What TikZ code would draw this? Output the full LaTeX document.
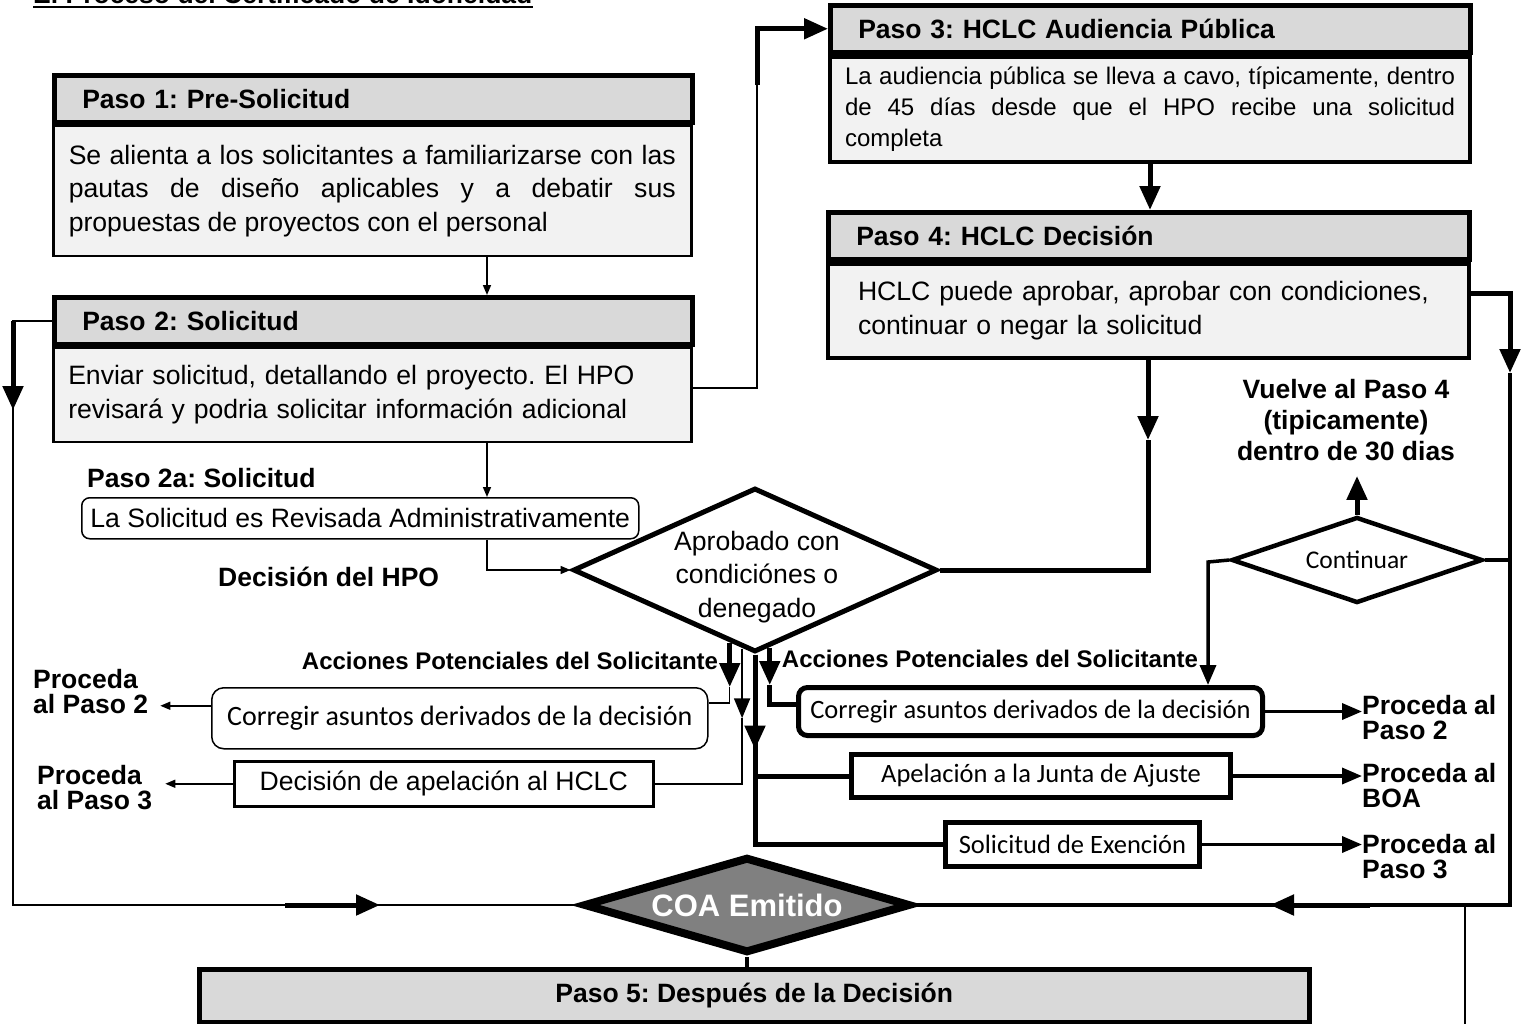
\documentclass[tikz,border=0pt]{standalone}
\usepackage{fontspec}
\setmainfont{Liberation Sans}
\newfontfamily\calfont{Carlito}
\usepackage{tikz}
\usetikzlibrary{shapes.geometric}
\usetikzlibrary{arrows.meta,positioning,calc}
\definecolor{hdrgray}{HTML}{D9D9D9}
\definecolor{bodygray}{HTML}{F2F2F2}
\definecolor{coagray}{HTML}{808080}
\newcommand{\bodysize}{\fontsize{26.6pt}{33.5pt}\selectfont}
\newcommand{\labsize}{\fontsize{26.5pt}{25pt}\selectfont\bfseries}
\newcommand{\calsize}{\calfont\fontsize{26.5pt}{26.5pt}\selectfont}
\hyphenpenalty=10000
\frenchspacing
\tikzstyle{hdr}=[draw, fill=hdrgray, line width=4.5pt, anchor=north west, inner xsep=28pt, inner ysep=0pt, minimum height=47pt, align=left, font=\labsize]
\tikzstyle{bdy}=[draw, fill=bodygray, line width=2.5pt, anchor=north west, font=\bodysize]
\tikzstyle{lab}=[inner sep=0pt, align=left, font=\labsize]
\tikzstyle{act}=[draw, line width=5pt, anchor=north west, font=\calsize]
\tikzstyle{dia}=[diamond, draw, fill=white, line width=5pt, inner sep=0pt]
\tikzstyle{thn}=[line width=1.5pt]
\tikzstyle{tarr}=[line width=1.5pt, -{Triangle[length=10pt, width=8pt]}]
\tikzstyle{kthk}=[line width=5pt]
\tikzstyle{karr}=[line width=5pt, -{Triangle[length=24pt, width=20pt]}]
\tikzstyle{marr}=[line width=3.5pt, -{Triangle[length=20pt, width=16pt]}]

\begin{document}
\begin{tikzpicture}[x=1pt, y=-1pt]
\useasboundingbox (0,0) rectangle (1525,1023);
%
  \node[lab, anchor=base west] (ttl) at (33,3) {El Proceso del Certificado de Idoneidad};
  \draw[line width=2.7pt] ([yshift=-3.5pt]ttl.south west) -- ([yshift=-3.5pt]ttl.south east);
% steps
  \node[hdr, text width=582pt] (p1h) at (52,73) {Paso 1: Pre-Solicitud};
  \node[bdy, minimum width=638pt, minimum height=130pt, text width=607pt, align=justify] (p1b) at (p1h.south west) {Se alienta a los solicitantes a familiarizarse con las\linebreak pautas de diseño aplicables y a debatir sus\linebreak propuestas de proyectos con el personal};
  \node[hdr, text width=582pt] (p2h) at (52,295) {Paso 2: Solicitud};
  \node[bdy, minimum width=638pt, minimum height=94pt, text width=608pt, align=left] (p2b) at (p2h.south west) {Enviar solicitud, detallando el proyecto. El HPO\\revisará y podria solicitar información adicional};
  \node[hdr, text width=584pt] (p3h) at (828,3) {Paso 3: HCLC Audiencia Pública};
  \node[bdy, line width=4pt, minimum width=640pt, minimum height=105pt, text width=610pt, align=justify, font=\fontsize{24pt}{31pt}\selectfont] (p3b) at (p3h.south west) {La audiencia pública se lleva a cavo, típicamente, dentro\linebreak de 45 días desde que el HPO recibe una solicitud\linebreak completa};
  \node[hdr, text width=585pt] (p4h) at (826,210) {Paso 4: HCLC Decisión};
  \node[bdy, line width=4pt, minimum width=641pt, minimum height=94pt, text width=581pt, align=left] (p4b) at (p4h.south west) {HCLC puede aprobar, aprobar con condiciones,\\continuar o negar la solicitud};
  \node[lab, anchor=west] (p2al) at (87,478) {Paso 2a: Solicitud};
  \node[draw, rounded corners=8pt, line width=1.5pt, anchor=north west, minimum width=557pt, minimum height=41pt, font=\bodysize] (p2a) at (81,497) {La Solicitud es Revisada Administrativamente};
  \node[lab, anchor=west] (hpo) at (218,577) {Decisión del HPO};
% decisions
  \node[dia, minimum width=364pt, minimum height=164pt] (dec) at (755,570) {};
  \node[align=center, font=\bodysize, inner sep=0pt] (dect) at (757,577) {Aprobado con\\condiciónes o\\denegado};
  \node[dia, line width=4.5pt, minimum width=251pt, minimum height=86pt, shape aspect=2.9, font=\calfont\fontsize{25.5pt}{25.5pt}\selectfont] (cont) at (1357,560) {Continuar};
  \node[dia, fill=coagray, line width=8pt, minimum width=327pt, minimum height=96pt, shape aspect=3.4, text=white, font=\fontsize{31pt}{31pt}\selectfont\bfseries] (coa) at (747,905) {COA Emitido};
  \node[draw, fill=hdrgray, line width=4.5pt, anchor=north west, minimum width=1110pt, minimum height=53pt, font=\labsize] (p5) at (197,967) {Paso 5: Después de la Decisión};
  \node[lab, align=center, font=\fontsize{26.5pt}{31pt}\selectfont\bfseries] (vuelve) at (1346,420) {Vuelve al Paso 4\\(tipicamente)\\dentro de 30 dias};
% applicant actions
  \node[lab, font=\fontsize{24pt}{24pt}\selectfont\bfseries] (accL) at (510,661) {Acciones Potenciales del Solicitante};
  \node[lab, font=\fontsize{24pt}{24pt}\selectfont\bfseries] (accR) at (990,659) {Acciones Potenciales del Solicitante};
  \node[draw, rounded corners=12pt, line width=1.5pt, anchor=north west, minimum width=496pt, minimum height=61pt, font=\calfont\fontsize{28pt}{28pt}\selectfont] (corL) at (211,687) {Corregir asuntos derivados de la decisión};
  \node[draw, line width=2.5pt, anchor=north west, minimum width=419pt, minimum height=45pt, font=\bodysize] (decL) at (233,760) {Decisión de apelación al HCLC};
  \node[lab, anchor=west] (pr2L) at (33,692) {Proceda\\al Paso 2};
  \node[lab, anchor=west] (pr3L) at (37,788) {Proceda\\al Paso 3};
  \node[act, rounded corners=9pt, minimum width=464pt, minimum height=48pt] (corR) at (796,685) {Corregir asuntos derivados de la decisión};
  \node[act, minimum width=379pt, minimum height=43pt] (apel) at (849,752) {Apelación a la Junta de Ajuste};
  \node[act, minimum width=254pt, minimum height=44pt] (exen) at (943,820) {Solicitud de Exención};
  \node[lab, anchor=west] (pr2R) at (1362,718) {Proceda al\\Paso 2};
  \node[lab, anchor=west] (prB) at (1362,786) {Proceda al\\BOA};
  \node[lab, anchor=west] (pr3R) at (1362,857) {Proceda al\\Paso 3};
% helper points
  \coordinate (x1) at (487,0);
  \coordinate (lft) at (13,600);
  \coordinate (l1) at (13,410);
  \coordinate (l2) at (285,905);
  \coordinate (l3) at (380,905);
  \coordinate (up) at (757,85);
  \coordinate (m4) at (1148,440);
  \coordinate (r1) at (1510,373);
  \coordinate (r2) at (1370,905);
  \coordinate (r3) at (1270,905);
  \coordinate (r4) at (1465,1030);
  \coordinate (c1) at (1208,562);
  \coordinate (da) at ($(dec.west)!0.863!(dec.south)$);
  \coordinate (db) at ($(dec.west)!0.93!(dec.south)$);
  \coordinate (dd) at ($(dec.south)!0.08!(dec.east)$);
% connectors
  \draw[tarr] (p1b.south -| x1) -- (p2h.north -| x1);
  \draw[tarr] (p2b.south -| x1) -- (p2a.north -| x1);
  \draw[tarr] (p2a.south -| x1) |- (dec.west);
  \draw[thn] (p2h.west) -| (lft) |- (coa.west);
  \draw[karr] (p2h.west -| lft) -- (l1);
  \draw[karr] (l2) -- (l3);
  \draw[thn] ([yshift=7pt]p2b.east) -| (up);
  \draw[karr] (up) |- (p3h.west);
  \draw[karr] (p3b.south) -- (p3b.south |- p4h.north);
  \draw[karr] (p4b.south -| m4) -- (m4);
  \draw[kthk] (m4) |- (dec.east);
  \draw[karr] ([yshift=17pt]p4b.east) -| (r1);
  \draw[line width=3.5pt] (r1) |- (coa.east);
  \draw[karr] (r2) -- (r3);
  \draw[thn] (r4 |- coa.east) -- (r4);
  \draw[line width=3.5pt] (cont.east) -- (cont.east -| r1);
  \draw[karr, shorten >=15pt] (cont.north) -- (cont.north |- vuelve.south);
  \draw[marr] (cont.west) -- (c1) -- (c1 |- corR.north);
  \draw[karr] (da) -- (da |- corL.north);
  \draw[thn] (da |- corL.north) |- ([yshift=15.5pt]corL.east);
  \draw[marr, line width=2pt] (db) -- (db |- corL.center);
  \draw[thn] (db |- corL.center) |- (decL.east);
  \draw[kthk] (dec.south) |- (exen.west);
  \draw[kthk] (dec.south |- apel.west) -- (apel.west);
  \draw[karr] (dec.south) -- (dec.south |- corL.south);
  \draw[karr] (dd) -- (dd |- corR.north);
  \draw[kthk] (dd |- corR.north) |- ([yshift=7pt]corR.west);
  \draw[tarr, shorten >=12pt] ([yshift=12.5pt]corL.west) -- ([yshift=12.5pt]corL.west -| pr2L.east);
  \draw[tarr, shorten >=13pt] (decL.west) -- (decL.west -| pr3L.east);
  \draw[marr] (corR.east) -- (corR.east -| pr2R.west);
  \draw[marr] (apel.east) -- (apel.east -| prB.west);
  \draw[marr] (exen.east) -- (exen.east -| pr3R.west);
  \draw[line width=4pt] (coa.south) -- (coa.south |- p5.north);
%
\end{tikzpicture}
\end{document}
